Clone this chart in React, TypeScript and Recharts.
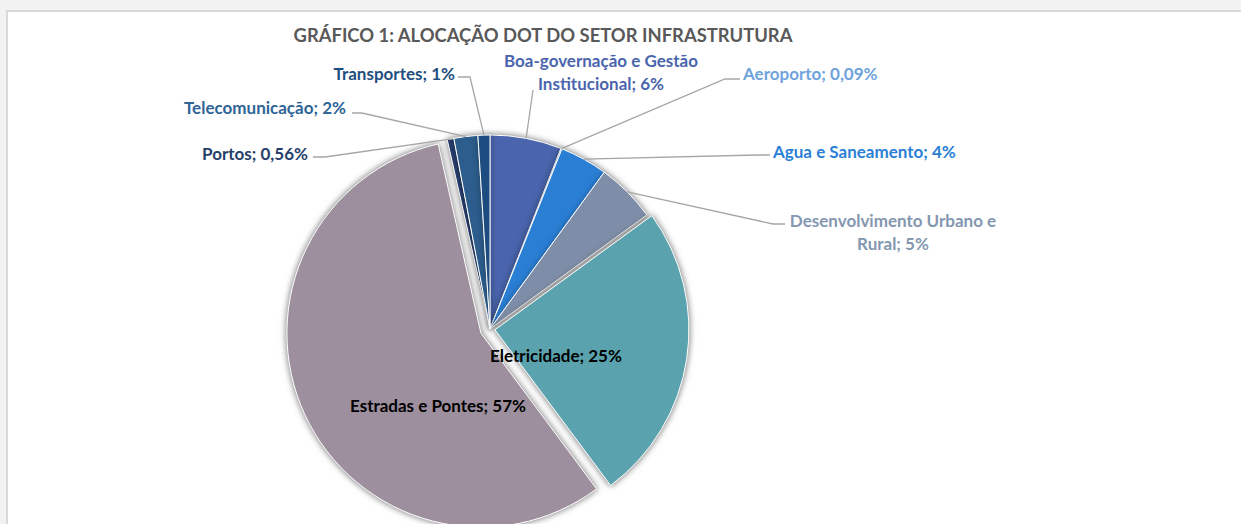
import { PieChart, Pie, Cell } from 'recharts'

const categories = [
  'Boa-governação e Gestão Institucional',
  'Aeroporto',
  'Agua e Saneamento',
  'Desenvolvimento Urbano e Rural',
  'Eletricidade',
  'Estradas e Pontes',
  'Portos',
  'Telecomunicação',
  'Transportes',
]
const shares = [6, 0.09, 4, 5, 25, 57, 0.56, 2, 1]
const shareLabels = ['6%', '0,09%', '4%', '5%', '25%', '57%', '0,56%', '2%', '1%']

const sliceColors = ['#4a65ad', '#6aa5dc', '#2a7fd5', '#7f8ea8', '#5aa3ae', '#9d8f9e', '#263d6b', '#2c5d8c', '#1d4d80']
const labelColors = ['#4a65ad', '#6fa3dc', '#2b7fd6', '#8497b0', '#000000', '#000000', '#263f6a', '#2e6496', '#1f4e80']

// pie geometry
const CX = 490
const CY = 329
const R = 194
const RADIAN = Math.PI / 180
const EXPLODE = [0, 0, 0, 0, 5, 10, 0, 0, 0]

// label placement, relative to pie centre: text pos, anchor, words on first line, leader elbow + tail
const LABELS: any[] = [
  { tx: 111, ty: -269, anchor: 'middle', wrap: 3, line: [[43, -239]] },
  { tx: 253, ty: -256, anchor: 'start', wrap: 0, line: [[235, -250], [250, -250]] },
  { tx: 283, ty: -178, anchor: 'start', wrap: 0, line: [[267, -174], [280, -174]] },
  { tx: 403, ty: -109, anchor: 'middle', wrap: 3, line: [[283, -105], [295, -105]] },
  { tx: 66, ty: 26, anchor: 'middle', wrap: 0, line: null },
  { tx: -52, ty: 76, anchor: 'middle', wrap: 0, line: null },
  { tx: -182, ty: -176, anchor: 'end', wrap: 0, line: [[-165, -172], [-177, -172]] },
  { tx: -144, ty: -222, anchor: 'end', wrap: 0, line: [[-128, -216], [-138, -216]] },
  { tx: -35, ty: -256, anchor: 'end', wrap: 0, line: [[-20, -252], [-32, -252]] },
]

const data = categories.map((name, i) => ({ name, value: shares[i] }))
const total = shares.reduce((a, b) => a + b, 0)
const midAngles = shares.map((v, i) => {
  const before = shares.slice(0, i).reduce((a, b) => a + b, 0)
  return 90 - (360 * (before + v / 2)) / total
})

const layers = [
  { dx: 0, dy: 0, show: (i: number) => EXPLODE[i] === 0 },
  ...EXPLODE.map((d, k) =>
    d > 0
      ? {
          dx: d * Math.cos(midAngles[k] * RADIAN),
          dy: -d * Math.sin(midAngles[k] * RADIAN),
          show: (i: number) => i === k,
        }
      : null
  ).filter(Boolean),
] as { dx: number; dy: number; show: (i: number) => boolean }[]

const PAGE_CSS =
  'html, body { overflow: hidden; scrollbar-width: none; margin: 0; } ' +
  '::-webkit-scrollbar { display: none; width: 0; height: 0; } ' +
  '.pie-shadow { filter: drop-shadow(0 0 3px rgba(0,0,0,0.3)); }'

const renderLabel = (props: any) => {
  const { index, midAngle } = props
  const l = LABELS[index]
  const text = categories[index] + '; ' + shareLabels[index]
  const words = text.split(' ')
  const lines = l.wrap ? [words.slice(0, l.wrap).join(' '), words.slice(l.wrap).join(' ')] : [text]
  let leader = null
  if (l.line) {
    const ex = CX + R * Math.cos(-midAngle * RADIAN)
    const ey = CY + R * Math.sin(-midAngle * RADIAN)
    const pts = [[ex, ey], ...l.line.map((p: number[]) => [CX + p[0], CY + p[1]])]
    leader = (
      <polyline
        points={pts.map((p) => p.join(',')).join(' ')}
        fill='none'
        stroke='#a6a6a6'
        strokeWidth={1.3}
      />
    )
  }
  return (
    <g key={'lbl' + index}>
      {leader}
      <text
        x={CX + l.tx}
        y={CY + l.ty}
        textAnchor={l.anchor}
        dominantBaseline='central'
        fill={labelColors[index]}
        fontFamily='Lato'
        fontWeight={700}
        fontSize={17}
      >
        {lines.map((s: string, j: number) => (
          <tspan key={j} x={CX + l.tx} dy={j === 0 ? 0 : 23}>
            {s}
          </tspan>
        ))}
      </text>
    </g>
  )
}

export default function App() {
  return (
    <div
      style={{
        position: 'fixed',
        left: 0,
        top: 0,
        width: 1241,
        height: 524,
        background: '#f2f2f2',
        overflow: 'hidden',
      }}
    >
      <style>{PAGE_CSS}</style>
      <div
        style={{
          position: 'absolute',
          left: 6,
          top: 10,
          width: 1300,
          height: 600,
          background: '#fff',
          borderTop: '2px solid #d9d9d9',
          borderLeft: '2px solid #d9d9d9',
          boxSizing: 'border-box',
        }}
      />
      <div
        style={{
          position: 'absolute',
          left: 243,
          top: 23,
          width: 600,
          textAlign: 'center',
          fontFamily: 'Lato',
          fontWeight: 700,
          fontSize: 18.4,
          lineHeight: '24px',
          color: '#595959',
        }}
      >
        GRÁFICO 1: ALOCAÇÃO DOT DO SETOR INFRASTRUTURA
      </div>
      <div style={{ position: 'absolute', left: 0, top: 0 }}>
        <PieChart width={1200} height={524} margin={{ top: 0, right: 0, bottom: 0, left: 0 }}>
          {layers.map((layer, k) => (
            <Pie
              key={k}
              className='pie-shadow'
              data={data}
              dataKey='value'
              nameKey='name'
              cx={CX + layer.dx}
              cy={CY + layer.dy}
              outerRadius={R}
              startAngle={90}
              endAngle={-270}
              isAnimationActive={false}
              labelLine={false}
              label={false}
            >
              {data.map((d, i) => (
                <Cell
                  key={d.name}
                  fill={layer.show(i) ? sliceColors[i] : 'none'}
                  stroke={layer.show(i) ? '#ffffff' : 'none'}
                  strokeWidth={1}
                />
              ))}
            </Pie>
          ))}
          <Pie
            data={data}
            dataKey='value'
            nameKey='name'
            cx={CX}
            cy={CY}
            outerRadius={R}
            startAngle={90}
            endAngle={-270}
            isAnimationActive={false}
            labelLine={false}
            label={renderLabel}
          >
            {data.map((d) => (
              <Cell key={d.name} fill='none' stroke='none' />
            ))}
          </Pie>
        </PieChart>
      </div>
    </div>
  )
}
